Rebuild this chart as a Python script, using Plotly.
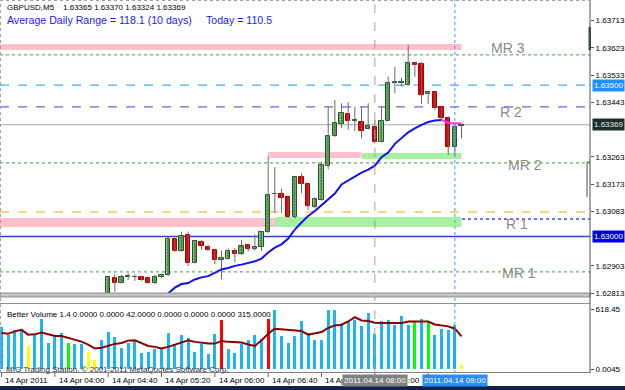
import plotly.graph_objects as go
import pandas as pd

# ---------------- data ----------------
times = pd.date_range("2011-04-14 03:20", periods=70, freq="5min")

candle_start = 16  # first candle visible in the price panel
opens = [1.62790, 1.62864, 1.62848, 1.62867, 1.62865, 1.62867, 1.62862, 1.62845, 1.62865, 1.62873,
         1.62991, 1.62952, 1.63005, 1.62913, 1.62983, 1.62966, 1.62955, 1.62922, 1.62925, 1.62953,
         1.62942, 1.62971, 1.62958, 1.62966, 1.63015, 1.63139, 1.63139, 1.63129, 1.63063, 1.63195,
         1.63172, 1.63098, 1.63120, 1.63233, 1.63333, 1.63371, 1.63405, 1.63383, 1.63377, 1.63354,
         1.63361, 1.63313, 1.63383, 1.63508, 1.63508, 1.63500, 1.63574, 1.63570, 1.63471, 1.63476,
         1.63427, 1.63390, 1.63296, 1.63365]
highs = [1.62867, 1.62875, 1.62873, 1.62879, 1.62875, 1.62870, 1.62864, 1.62873, 1.62878, 1.62999,
         1.62994, 1.63016, 1.63016, 1.62988, 1.62988, 1.62972, 1.62957, 1.62953, 1.62961, 1.62961,
         1.62988, 1.62977, 1.63007, 1.63019, 1.63264, 1.63229, 1.63157, 1.63130, 1.63200, 1.63209,
         1.63173, 1.63129, 1.63247, 1.63429, 1.63451, 1.63440, 1.63444, 1.63429, 1.63429, 1.63440,
         1.63385, 1.63429, 1.63528, 1.63561, 1.63524, 1.63633, 1.63575, 1.63577, 1.63479, 1.63478,
         1.63429, 1.63396, 1.63374, 1.63370]
lows = [1.62780, 1.62817, 1.62845, 1.62856, 1.62853, 1.62853, 1.62843, 1.62843, 1.62864, 1.62869,
        1.62950, 1.62950, 1.62902, 1.62911, 1.62955, 1.62953, 1.62909, 1.62859, 1.62924, 1.62915,
        1.62939, 1.62950, 1.62953, 1.62952, 1.63011, 1.63077, 1.63077, 1.63062, 1.63060, 1.63143,
        1.63087, 1.63093, 1.63118, 1.63222, 1.63329, 1.63358, 1.63352, 1.63349, 1.63324, 1.63353,
        1.63308, 1.63311, 1.63381, 1.63473, 1.63495, 1.63497, 1.63528, 1.63438, 1.63438, 1.63418,
        1.63385, 1.63269, 1.63269, 1.63324]
closes = [1.62865, 1.62847, 1.62865, 1.62868, 1.62867, 1.62856, 1.62845, 1.62867, 1.62873, 1.62991,
          1.62952, 1.63001, 1.62913, 1.62986, 1.62968, 1.62955, 1.62922, 1.62928, 1.62952, 1.62942,
          1.62969, 1.62958, 1.62966, 1.63015, 1.63137, 1.63140, 1.63128, 1.63063, 1.63197, 1.63172,
          1.63101, 1.63123, 1.63236, 1.63333, 1.63374, 1.63407, 1.63383, 1.63384, 1.63348, 1.63365,
          1.63313, 1.63382, 1.63508, 1.63509, 1.63510, 1.63574, 1.63568, 1.63467, 1.63478, 1.63424,
          1.63390, 1.63297, 1.63363, 1.63369]

volume = [436, 350, 402, 419, 240, 367, 515, 271, 333, 378,
          271, 257, 264, 179, 93, 306, 381, 333, 220, 271,
          306, 168, 179, 203, 213, 374, 264, 357, 326, 179,
          264, 154, 360, 512, 203, 168, 264, 306, 350, 316,
          518, 618, 343, 271, 343, 494, 374, 306, 299, 615,
          610, 453, 498, 512, 443, 580, 367, 498, 512, 460,
          546, 453, 487, 515, 487, 357, 412, 408, 453, 41]
volume_kind = ("bbbbybbbbb" "gbbyybbbbb" "bbbbbbbbbb" "bbbrbbbbbb" "rbbbbbbbbb"
               "bbbbbbbbbb" "bbgbgbbbby")
volume_ma = [374, 367, 391, 408, 357, 360, 378, 357, 343, 343,
             323, 309, 285, 254, 213, 220, 244, 261, 271, 295,
             299, 271, 240, 230, 213, 230, 254, 282, 299, 282,
             271, 264, 264, 292, 282, 282, 275, 254, 240, 299,
             367, 419, 412, 408, 402, 395, 357, 367, 384, 426,
             453, 460, 494, 539, 505, 498, 481, 477, 477, 477,
             477, 494, 494, 498, 494, 463, 453, 443, 419, 340]

price_ma_start = 24
price_ma = [1.62793, 1.62813, 1.62831, 1.62843, 1.62846, 1.62858, 1.62865, 1.62869, 1.62880, 1.62891,
            1.62896, 1.62903, 1.62907, 1.62912, 1.62918, 1.62927, 1.62947, 1.62963, 1.62974, 1.62993,
            1.63023, 1.63046, 1.63068, 1.63084, 1.63104, 1.63122, 1.63142, 1.63172, 1.63185, 1.63200,
            1.63211, 1.63221, 1.63234, 1.63262, 1.63277, 1.63306, 1.63325, 1.63344, 1.63357, 1.63369,
            1.63378, 1.63383, 1.63385, 1.63375, 1.63374, 1.63373]
price_ma_magenta_from = 66

mr_levels = [1.63600, 1.63243, 1.62883]
round_hi = 1.63500
r2_level = 1.63428
bid_level = 1.63369
orange_level = 1.63081
r1_level = 1.63058
round_lo = 1.63000

band_top = [1.63616, 1.63636]
band_mid_pink = [1.63259, 1.63279]
band_mid_green = [1.63256, 1.63276]
band_low_pink = [1.63031, 1.63061]
band_low_green = [1.63031, 1.63064]

level_labels = ["MR 3", "R 2", "MR 2", "R 1", "MR 1"]
level_label_prices = [1.63623, 1.63411, 1.63236, 1.63041, 1.62879]

price_ticks = [1.63713, 1.63623, 1.63533, 1.63443, 1.63263,
               1.63173, 1.63083, 1.62903, 1.62813]
time_tick_idx = [0, 8, 16, 24, 32, 40, 48, 56, 64]
# labels as they remain visible next to the highlighted period boxes
time_label_idx = [0, 8, 16, 24, 32, 40, 48]
time_label_text = ["14 Apr 2011", "14 Apr 04:00", "14 Apr 04:40", "14 Apr 05:20",
                   "14 Apr 06:00", "14 Apr 06:40", "14 Ap"]
time_label_tail = ":00"      # tail of "14 Apr 08:00" peeking out of the grey box
vol_ticks = [618.45, 0]
vol_tick_text = ["618.45", "0.0045"]

# ---------------- geometry helpers ----------------
W, H = 625, 390
PW, PH = 590, 373           # plot area in pixels
FONT = "Liberation Sans"
BAR = pd.Timedelta(minutes=5)
MS = 300000


def tx(i):
    return times[0] + BAR * i


def xp(px):
    return px / PW


def yp(py):
    return (PH - py) / PH


vol_colors = {"b": "#1eb4f0", "y": "#ffff00", "g": "#00ff00", "r": "#ff0000"}

fig = go.Figure()

# ---- candles ----
ct = list(times[candle_start:])
bull = [c >= o for o, c in zip(opens, closes)]
wx, wy = [], []
for t, h, l in zip(ct, highs, lows):
    wx += [t, t, None]
    wy += [l, h, None]
fig.add_trace(go.Scatter(x=wx, y=wy, mode="lines", line=dict(color="#6a6a6a", width=1),
                         hoverinfo="skip", showlegend=False, xaxis="x", yaxis="y"))
fig.add_trace(go.Bar(
    x=ct,
    base=[min(o, c) for o, c in zip(opens, closes)],
    y=[max(abs(c - o), 0.000012) for o, c in zip(opens, closes)],
    width=0.62 * MS,
    marker=dict(
        color=["#22a822" if b else "#e00000" for b in bull],
        line=dict(color=["#2d4d2d" if b else "#b00000" for b in bull], width=1),
        pattern=dict(shape=["." if b else "" for b in bull], fgcolor="#8cff8c",
                     size=3, solidity=0.45, fillmode="overlay"),
    ),
    showlegend=False, xaxis="x", yaxis="y"))

# ---- price moving average ----
ma_t = list(times[price_ma_start:])
k = price_ma_magenta_from - price_ma_start
fig.add_trace(go.Scatter(x=ma_t[:k + 1], y=price_ma[:k + 1], mode="lines",
                         line=dict(color="#1010f0", width=2), showlegend=False,
                         xaxis="x", yaxis="y"))
fig.add_trace(go.Scatter(x=ma_t[k:], y=price_ma[k:], mode="lines",
                         line=dict(color="#ff33ff", width=2), showlegend=False,
                         xaxis="x", yaxis="y"))

# ---- volume ----
fig.add_trace(go.Bar(x=list(times), y=volume, width=0.42 * MS,
                     marker=dict(color=[vol_colors[c] for c in volume_kind], line=dict(width=0)),
                     showlegend=False, xaxis="x2", yaxis="y2"))
fig.add_trace(go.Scatter(x=list(times), y=volume_ma, mode="lines",
                         line=dict(color="#8b0000", width=2), showlegend=False,
                         xaxis="x2", yaxis="y2"))

# ---------------- shapes ----------------
shapes = []
t_band0 = tx(-2)


def band(x0, x1, yy, color):
    shapes.append(dict(type="rect", xref="x", yref="y", x0=x0, x1=x1, y0=yy[0], y1=yy[1],
                       fillcolor=color, line=dict(width=0), layer="below"))


band(t_band0, times[69], band_top, "#ffbfcb")
band(times[40], times[54], band_mid_pink, "#ffbfcb")
band(times[54], times[69], band_mid_green, "#a6f0a0")
band(t_band0, times[41], band_low_pink, "#ffbfcb")
band(times[41], times[69], band_low_green, "#a6f0a0")


def hline(y, color, dash="solid", width=1):
    shapes.append(dict(type="line", xref="x domain", yref="y", x0=0, x1=1, y0=y, y1=y,
                       line=dict(color=color, dash=dash, width=width), layer="below"))


for lv in mr_levels:
    hline(lv, "#3a9a3a", "dot")
hline(round_hi, "#1e90ff", "dash")
hline(r2_level, "#3c3cf0", "dash")
hline(bid_level, "#a8a8a8")
hline(orange_level, "#ffa500", "dash")
hline(r1_level, "#7070ff", "dot", 2)
hline(round_lo, "#3a3ad8", "solid", 1.5)

# vertical period lines (both panels)
shapes.append(dict(type="line", xref="x", yref="paper", x0=times[56], x1=times[56], y0=0, y1=1,
                   line=dict(color="#a0a0a0", dash="dash", width=1)))
shapes.append(dict(type="line", xref="x", yref="paper", x0=times[68], x1=times[68], y0=0, y1=1,
                   line=dict(color="#3399ff", dash="dot", width=1)))

# time-axis tick marks
for i in time_tick_idx:
    shapes.append(dict(type="line", xref="x2", yref="paper", x0=times[i], x1=times[i],
                       y0=yp(373), y1=yp(377), line=dict(color="#606060", width=1)))

# frame decorations
shapes += [
    dict(type="rect", xref="paper", yref="paper", x0=0, x1=1, y0=yp(297), y1=yp(293),
         fillcolor="#c4c4c4", line=dict(color="#909090", width=1)),
    dict(type="line", xref="paper", yref="paper", x0=0, x1=1, y0=yp(303.5), y1=yp(303.5),
         line=dict(color="#909090", width=1)),
    dict(type="line", xref="paper", yref="paper", x0=0, x1=1, y0=yp(372.5), y1=yp(372.5),
         line=dict(color="#808080", width=1)),
    dict(type="line", xref="paper", yref="paper", x0=1, x1=1, y0=yp(373), y1=yp(0),
         line=dict(color="#505050", width=1)),
    dict(type="line", xref="paper", yref="paper", x0=xp(0.5), x1=xp(0.5), y0=yp(373), y1=yp(0),
         line=dict(color="#a0a0a0", width=1, dash="dot")),
    dict(type="line", xref="paper", yref="paper", x0=0, x1=1, y0=yp(0.5), y1=yp(0.5),
         line=dict(color="#a0a0a0", width=1, dash="dot")),
    dict(type="rect", xref="paper", yref="paper", x0=0, x1=xp(625), y0=yp(390), y1=yp(386),
         fillcolor="#14224a", line=dict(width=0)),
    dict(type="rect", xref="paper", yref="paper", x0=xp(588.5), x1=xp(591), y0=yp(50), y1=yp(27),
         fillcolor="#3a4a4a", line=dict(width=0)),
    dict(type="line", xref="paper", yref="paper", x0=xp(587), x1=xp(587), y0=yp(197), y1=yp(162),
         line=dict(color="#505050", width=1)),
    dict(type="line", xref="paper", yref="paper", x0=xp(587), x1=xp(590), y0=yp(162), y1=yp(162),
         line=dict(color="#505050", width=1)),
]

# ---------------- annotations ----------------
ann = []


def text(px, py, s, size=8, color="#000000", anchor="left"):
    ann.append(dict(xref="paper", yref="paper", x=xp(px), y=yp(py), text=s, showarrow=False,
                    xanchor=anchor, yanchor="middle", font=dict(family=FONT, size=size, color=color)))


text(5, 7, "GBPUSD,M5\u00a0\u00a0\u00a0\u00a01.63365 1.63370 1.63324 1.63369")
text(5, 20, "Average Daily Range = 118.1 (10 days)", 10.6, "#1a1aff")
text(204, 20, "Today = 110.5", 10.6, "#1a1aff")
text(5, 314, "Better Volume 1.4 0.0000 0.0000 42.0000 0.0000 0.0000 0.0000 315.0000")
text(4, 369.5, "MIG Trading Station, © 2001-2011 MetaQuotes Software Corp.", 8, "#303030")

# time labels (left aligned just right of their tick)
for i, s in zip(time_label_idx, time_label_text):
    ann.append(dict(xref="x2", yref="paper", x=tx(i + 0.25), y=yp(380.5), text=s,
                    showarrow=False, xanchor="left", yanchor="middle",
                    font=dict(family=FONT, size=8, color="#000000")))
ann.append(dict(xref="paper", yref="paper", x=xp(406), y=yp(380.5), text=time_label_tail,
                showarrow=False, xanchor="left", yanchor="middle",
                font=dict(family=FONT, size=8, color="#000000")))

label_idx = [76.0, 76.4, 78.5, 77.3, 77.6]
for s, i, p in zip(level_labels, label_idx, level_label_prices):
    ann.append(dict(xref="x", yref="y", x=tx(i), y=p, text=s, showarrow=False,
                    xanchor="center", yanchor="middle",
                    font=dict(family=FONT, size=14, color="#8a8a8a")))

for p, bg, fg in [(round_hi, "#1e90ff", "#ffffff"), (bid_level, "#1e2c2c", "#e8e8e8"),
                  (round_lo, "#0000f0", "#ffffff")]:
    ann.append(dict(xref="paper", yref="y", x=xp(592), y=p, text="%.5f" % p, showarrow=False,
                    xanchor="left", yanchor="middle", bgcolor=bg, borderpad=1,
                    font=dict(family=FONT, size=8, color=fg)))

for i, bg in [(56, "#808080"), (68, "#2a8cff")]:
    ann.append(dict(xref="x2", yref="paper", x=times[i], y=yp(380.5),
                    text=times[i].strftime("%Y.%m.%d %H:%M"), showarrow=False,
                    xanchor="center", yanchor="middle", bgcolor=bg, borderpad=1,
                    font=dict(family=FONT, size=8, color="#ffffff")))

# ---------------- layout ----------------
x_range = [tx(-0.225), tx(88.27)]
axis_font = dict(family=FONT, size=8, color="#000000")

fig.update_layout(
    width=W, height=H, margin=dict(l=0, r=W - PW, t=0, b=H - PH, autoexpand=False),
    paper_bgcolor="#ffffff", plot_bgcolor="#ffffff",
    barmode="overlay", bargap=0, showlegend=False,
    xaxis=dict(domain=[0, 1], range=x_range, anchor="y", showticklabels=False, showgrid=False,
               zeroline=False, showline=False, ticks="", automargin=False),
    yaxis=dict(domain=[yp(294), yp(4)], range=[1.62810, 1.63768], side="right", anchor="x",
               tickvals=price_ticks, ticktext=["%.5f" % v for v in price_ticks],
               ticks="outside", ticklen=3, tickcolor="#505050", tickfont=axis_font,
               showgrid=False, zeroline=False, showline=False, automargin=False),
    xaxis2=dict(domain=[0, 1], range=x_range, anchor="y2", matches="x", showgrid=False,
                zeroline=False, showline=False, showticklabels=False, ticks="",
                automargin=False),
    yaxis2=dict(domain=[0, yp(304)], range=[-41.6, 675.6], side="right", anchor="x2",
                tickvals=vol_ticks, ticktext=vol_tick_text, ticks="outside", ticklen=3,
                tickcolor="#505050", tickfont=axis_font, showgrid=False, zeroline=False,
                showline=False, automargin=False),
    shapes=shapes, annotations=ann,
)

fig.write_html("out.html")
